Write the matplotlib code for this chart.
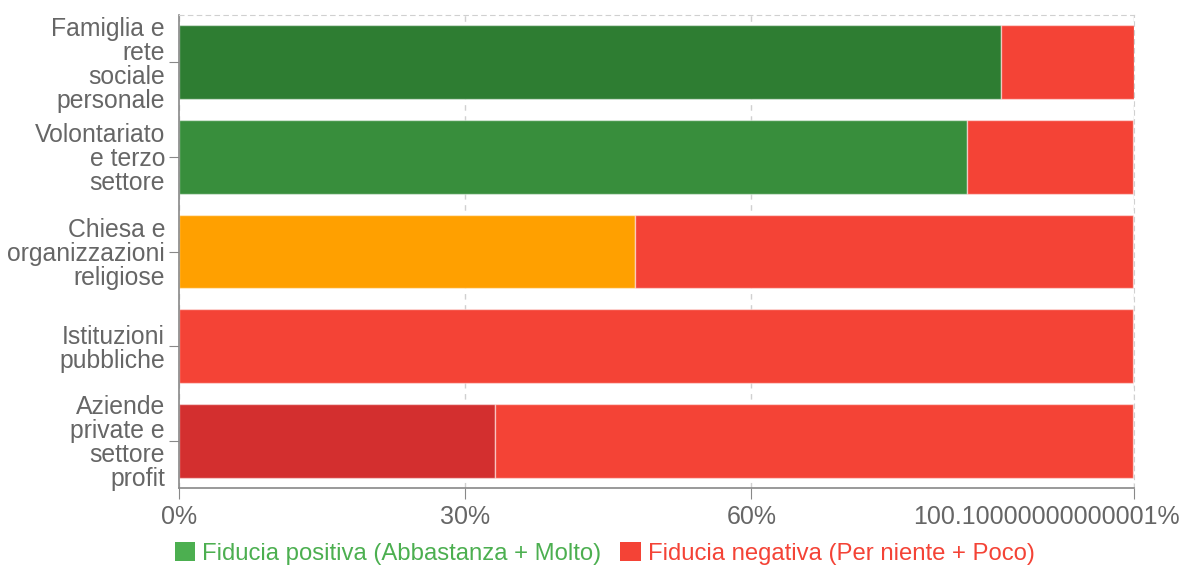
import numpy as np
import matplotlib.pyplot as plt
from matplotlib.patches import Patch

# data
categories = ["Famiglia e\nrete\nsociale\npersonale",
              "Volontariato\ne terzo\nsettore",
              "Chiesa e\norganizzazioni\nreligiose",
              "Istituzioni\npubbliche",
              "Aziende\nprivate e\nsettore\nprofit"]
positive = [86.2, 82.6, 47.8, 0.0, 33.1]
negative = [13.9, 17.4, 52.2, 100.0, 66.9]
pos_colors = ["#2e7d32", "#388e3c", "#ffa000", "#4caf50", "#d32f2f"]
neg_color = "#f44336"
x_ticks = [0, 30, 60, 100.1]
x_ticklabels = ["0%", "30%", "60%", "100.10000000000001%"]
legend_labels = ["Fiducia positiva (Abbastanza + Molto)", "Fiducia negativa (Per niente + Poco)"]
legend_colors = ["#4caf50", "#f44336"]

plt.rcParams['font.family'] = ['Liberation Sans', 'DejaVu Sans']
text_gray = "#666666"

fig = plt.figure(figsize=(11.84, 5.66), dpi=100)
ax = fig.add_axes([179 / 1184, 1 - 488 / 566, (1134 - 179) / 1184, (488 - 15) / 566])

y = np.arange(len(categories))
ax.barh(y, positive, height=0.78, color=pos_colors, edgecolor=(1, 1, 1, 0.5), linewidth=1, zorder=2)
ax.barh(y, negative, left=positive, height=0.78, color=neg_color, edgecolor=(1, 1, 1, 0.5), linewidth=1, zorder=2)

ax.set_ylim(len(categories) - 0.5, -0.5)
ax.set_xlim(0, 100.1)
ax.set_yticks(y)
ax.set_yticklabels(categories, fontsize=17.8, color=text_gray, linespacing=1.0)
ax.set_xticks(x_ticks)
# the last label is drawn separately: it is pushed inside the canvas
ax.set_xticklabels(x_ticklabels[:-1] + [""], fontsize=18, color=text_gray)
ax.annotate(x_ticklabels[-1], xy=(x_ticks[-1], 0), xycoords=ax.get_xaxis_transform(),
            xytext=(33, -12), textcoords='offset points', ha='right', va='top',
            fontsize=18, color=text_gray, annotation_clip=False)

ax.tick_params(axis='y', length=7, color='#888888', pad=3)
ax.tick_params(axis='x', length=8, color='#888888', pad=4)

ax.grid(axis='x', linestyle=(0, (4, 4)), color='#d0d0d0', linewidth=1, zorder=0)
for side in ['left', 'bottom']:
    ax.spines[side].set_color('#888888')
    ax.spines[side].set_linewidth(1.2)
for side in ['top', 'right']:
    ax.spines[side].set_color('#d0d0d0')
    ax.spines[side].set_linestyle((0, (4, 4)))

handles = [Patch(facecolor=c, edgecolor='none') for c in legend_colors]
leg = fig.legend(handles, legend_labels, loc='center', bbox_to_anchor=(0.5106, 0.022),
                 ncol=2, frameon=False, fontsize=17.2, handlelength=0.85, handleheight=0.8,
                 handletextpad=0.3, columnspacing=0.8)
for txt, c in zip(leg.get_texts(), legend_colors):
    txt.set_color(c)

fig.savefig("out.png", dpi=100)
